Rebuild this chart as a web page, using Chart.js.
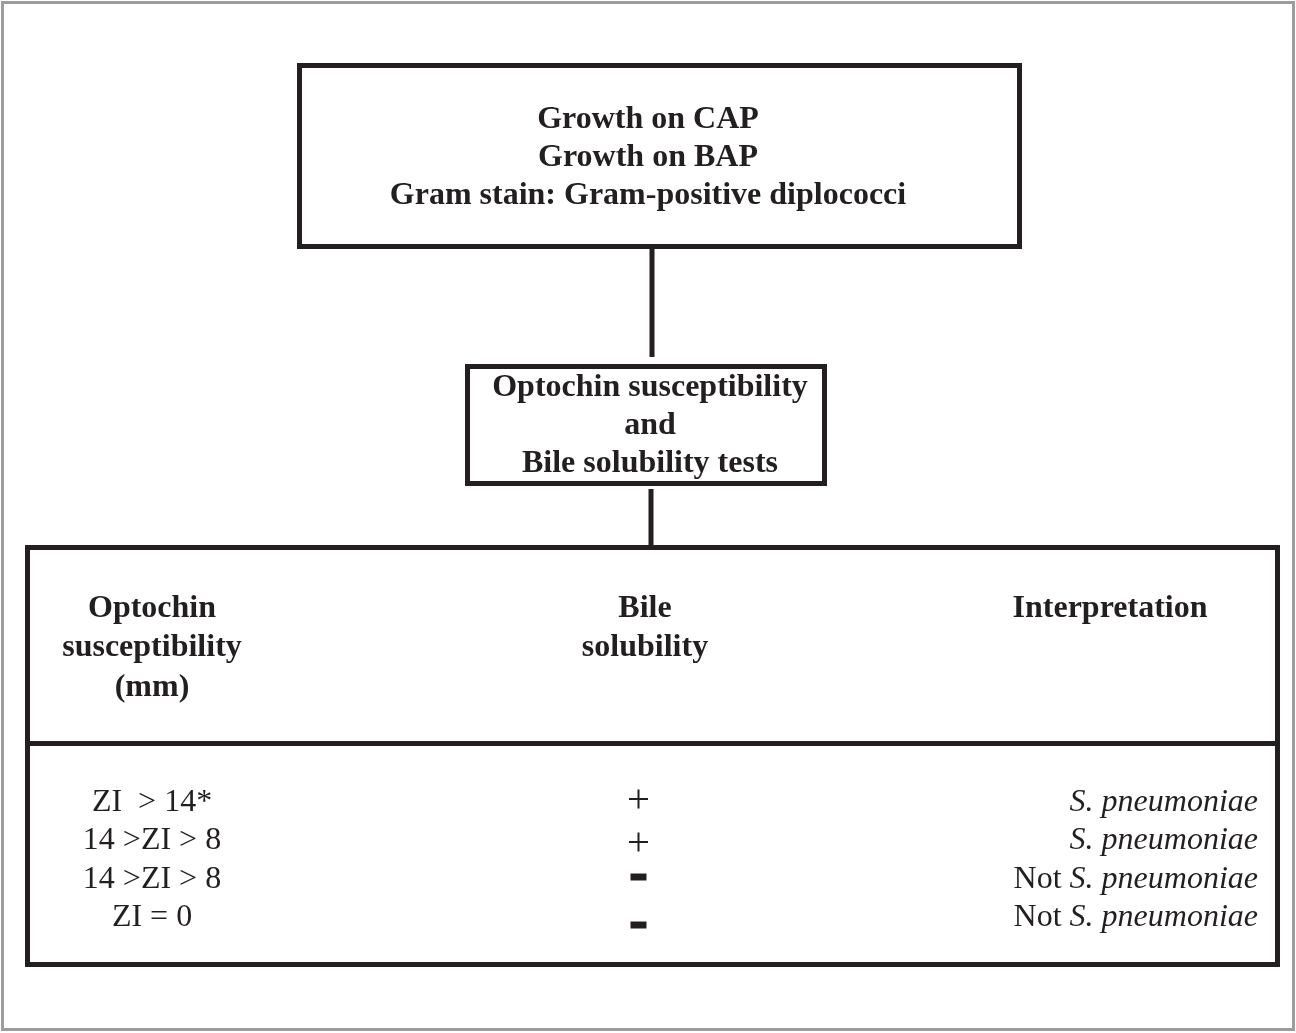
<!DOCTYPE html>
<html>
<head>
<meta charset="utf-8">
<script src="https://cdn.jsdelivr.net/npm/chart.js@4.4.1/dist/chart.umd.min.js"></script>
<style>
  html, body { margin: 0; padding: 0; background: #fff; }
  canvas { display: block; }
</style>
</head>
<body>
<canvas id="flow" width="1296" height="1033"></canvas>
<script>
// Texte du diagramme
const topLines = ['Growth on CAP', 'Growth on BAP', 'Gram stain: Gram-positive diplococci'];
const midLines = ['Optochin susceptibility', 'and', 'Bile solubility tests'];
const headOptochin = ['Optochin', 'susceptibility', '(mm)'];
const headBile = ['Bile', 'solubility'];
const headInterp = ['Interpretation'];

// Lignes du tableau
const optochinZone = ['ZI  > 14*', '14 >ZI > 8', '14 >ZI > 8', 'ZI = 0'];
const bileResult = ['+', '+', '-', '-'];
const interpPrefix = ['', '', 'Not ', 'Not '];
const interpSpecies = ['S. pneumoniae', 'S. pneumoniae', 'S. pneumoniae', 'S. pneumoniae'];

// Mise en page (coordonnées de l'image)
const W = 1296, H = 1033;
const INK = '#231f20';
const boxTop = { x0: 299.5, y0: 65.5, x1: 1019.5, y1: 246.5 };
const boxMid = { x0: 467.5, y0: 366.5, x1: 824.5, y1: 483.5 };
const boxTable = { x0: 27.5, y0: 547.5, x1: 1277.5, y1: 964.5 };
const dividerY = 743.5;
const colX = [152, 645, 1110];
const interpRight = 1258;
const headBase = [617, 656, 696];
const rowBase = [811, 849, 888, 926];
const signX = 638.5;
const signY = [799, 842, 877, 925];

const BOLD = 'bold 32px "Liberation Serif", "Times New Roman", serif';
const REG = '32px "Liberation Serif", "Times New Roman", serif';
const ITAL = 'italic 32px "Liberation Serif", "Times New Roman", serif';

const flowPlugin = {
  id: 'flowBoxes',
  beforeDatasetsDraw(chart) {
    const { ctx, scales: { x, y } } = chart;
    const px = v => x.getPixelForValue(v);
    const py = v => y.getPixelForValue(v);

    ctx.save();
    // cadre gris
    ctx.strokeStyle = '#9d9d9f';
    ctx.lineWidth = 3;
    ctx.strokeRect(px(2.5), py(2.5), px(1293.5) - px(2.5), py(1029.5) - py(2.5));

    // boîtes
    ctx.strokeStyle = INK;
    ctx.lineWidth = 5;
    ctx.lineJoin = 'miter';
    [boxTop, boxMid, boxTable].forEach(b => {
      ctx.strokeRect(px(b.x0), py(b.y0), px(b.x1) - px(b.x0), py(b.y1) - py(b.y0));
    });
    ctx.beginPath();
    ctx.moveTo(px(boxTable.x0), py(dividerY));
    ctx.lineTo(px(boxTable.x1), py(dividerY));
    ctx.stroke();
    ctx.restore();
  },
  afterDatasetsDraw(chart) {
    const { ctx, scales: { x, y } } = chart;
    const px = v => x.getPixelForValue(v);
    const py = v => y.getPixelForValue(v);

    ctx.save();
    ctx.fillStyle = INK;
    ctx.textBaseline = 'alphabetic';
    ctx.textAlign = 'center';

    ctx.font = BOLD;
    topLines.forEach((t, i) => ctx.fillText(t, px(648), py(128 + i * 38)));
    midLines.forEach((t, i) => ctx.fillText(t, px(650), py(396 + i * 38)));
    headOptochin.forEach((t, i) => ctx.fillText(t, px(colX[0]), py(headBase[i])));
    headBile.forEach((t, i) => ctx.fillText(t, px(colX[1]), py(headBase[i])));
    headInterp.forEach((t, i) => ctx.fillText(t, px(colX[2]), py(headBase[i])));

    ctx.font = REG;
    optochinZone.forEach((t, i) => ctx.fillText(t, px(colX[0]), py(rowBase[i])));

    // interprétation, alignée à droite, espèce en italique
    ctx.textAlign = 'right';
    interpSpecies.forEach((sp, i) => {
      ctx.font = ITAL;
      const spW = ctx.measureText(sp).width;
      ctx.fillText(sp, px(interpRight), py(rowBase[i]));
      if (interpPrefix[i]) {
        ctx.font = REG;
        ctx.fillText(interpPrefix[i], px(interpRight) - spW, py(rowBase[i]));
      }
    });
    ctx.restore();
  }
};

new Chart(document.getElementById('flow'), {
  type: 'scatter',
  data: {
    datasets: [
      {
        // liaison boîte du haut -> boîte du milieu
        data: [{ x: 652, y: boxTop.y1 + 2 }, { x: 652, y: 357 }],
        showLine: true,
        borderColor: INK,
        borderWidth: 5,
        pointRadius: 0
      },
      {
        // liaison boîte du milieu -> tableau
        data: [{ x: 651, y: 489 }, { x: 651, y: boxTable.y0 }],
        showLine: true,
        borderColor: INK,
        borderWidth: 5,
        pointRadius: 0
      },
      {
        // résultats de solubilité biliaire (+ / -)
        data: bileResult.map((s, i) => ({ x: signX, y: signY[i] })),
        showLine: false,
        pointStyle: bileResult.map(s => (s === '+' ? 'cross' : 'line')),
        pointRadius: bileResult.map(s => (s === '+' ? 9.5 : 8)),
        borderWidth: bileResult.map(s => (s === '+' ? 2 : 7)),
        borderColor: INK,
        backgroundColor: INK
      }
    ]
  },
  options: {
    responsive: false,
    animation: false,
    layout: { padding: 0, autoPadding: false },
    plugins: {
      legend: { display: false },
      tooltip: { enabled: false },
      title: { display: false }
    },
    scales: {
      x: { type: 'linear', min: 0, max: W, display: false },
      y: { type: 'linear', min: 0, max: H, reverse: true, display: false }
    },
    events: []
  },
  plugins: [flowPlugin]
});
</script>
</body>
</html>
